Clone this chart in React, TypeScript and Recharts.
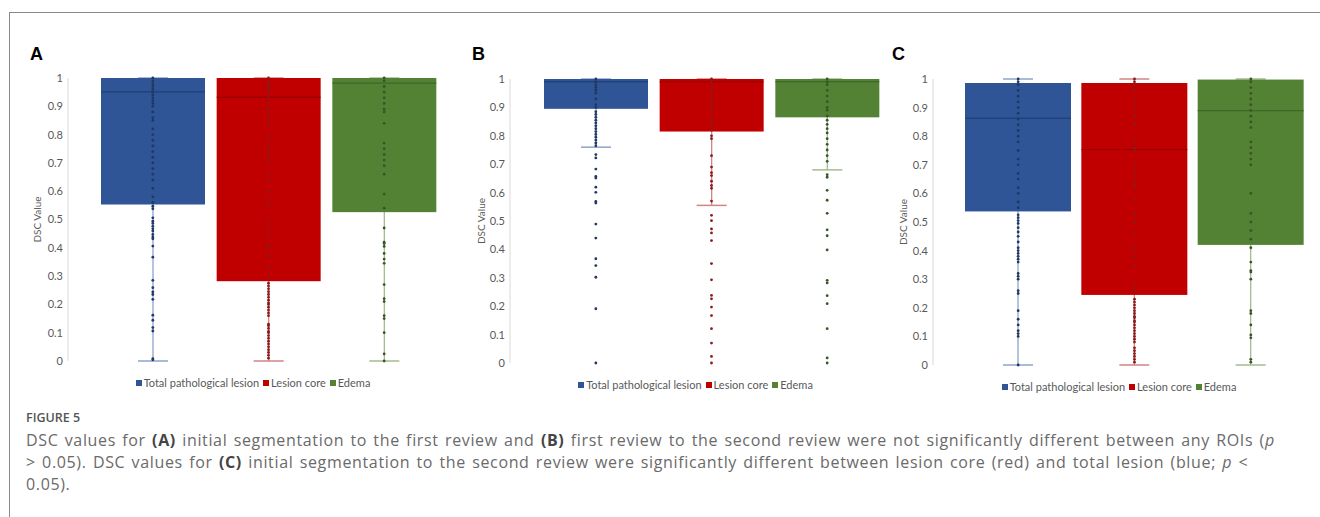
import React from "react";
import { ComposedChart, Bar, Scatter, XAxis, YAxis, Legend } from "recharts";

const categories = ["Total pathological lesion", "Lesion core", "Edema"];
const boxColors = ["#2f5597", "#c00000", "#548235"];
const medianColors = ["#1e3a70", "#8e0000", "#3a6222"];
const whiskerColors = ["#8fa3c9", "#cf8585", "#a5bb90"];
const dotColors = ["#1f3864", "#8b1a1a", "#375623"];
const yTicks = [0, 0.1, 0.2, 0.3, 0.4, 0.5, 0.6, 0.7, 0.8, 0.9, 1];

// panel A: initial segmentation vs first review
const aMin = [0, 0, 0];
const aQ1 = [0.553, 0.282, 0.526];
const aMedian = [0.951, 0.932, 0.982];
const aQ3 = [1, 1, 1];
const aMax = [1, 1, 1];
const aTotal = [1, 0.99, 0.98, 0.97, 0.96, 0.95, 0.94, 0.93, 0.92, 0.91, 0.9, 0.88, 0.86, 0.85, 0.82, 0.8, 0.78, 0.76, 0.74, 0.72, 0.7, 0.68, 0.66, 0.64, 0.61, 0.58, 0.56, 0.547, 0.538, 0.506, 0.494, 0.486, 0.476, 0.467, 0.459, 0.447, 0.438, 0.432, 0.406, 0.367, 0.285, 0.259, 0.244, 0.235, 0.218, 0.162, 0.144, 0.118, 0.106, 0.008, 0.004];
const aCore = [1, 0.99, 0.98, 0.97, 0.96, 0.95, 0.93, 0.91, 0.89, 0.87, 0.85, 0.83, 0.8, 0.78, 0.76, 0.74, 0.72, 0.7, 0.66, 0.64, 0.6, 0.57, 0.55, 0.5, 0.47, 0.44, 0.41, 0.4, 0.37, 0.33, 0.3, 0.275, 0.265, 0.255, 0.245, 0.235, 0.225, 0.215, 0.205, 0.2, 0.19, 0.18, 0.17, 0.16, 0.13, 0.125, 0.115, 0.105, 0.1, 0.09, 0.08, 0.07, 0.06, 0.05, 0.04, 0.03, 0.02, 0.01];
const aEdema = [1, 0.99, 0.97, 0.95, 0.93, 0.91, 0.89, 0.88, 0.84, 0.77, 0.75, 0.73, 0.71, 0.69, 0.66, 0.59, 0.54, 0.47, 0.42, 0.415, 0.405, 0.38, 0.36, 0.345, 0.27, 0.22, 0.21, 0.16, 0.15, 0.1, 0.025, 0];

// panel B: first review vs second review
const bMin = [0.76, 0.555, 0.68];
const bQ1 = [0.895, 0.815, 0.865];
const bMedian = [0.99, 0.99, 0.99];
const bQ3 = [1, 1, 1];
const bMax = [1, 1, 1];
const bTotal = [1, 0.99, 0.98, 0.97, 0.96, 0.95, 0.93, 0.91, 0.9, 0.885, 0.875, 0.865, 0.855, 0.845, 0.835, 0.825, 0.815, 0.805, 0.795, 0.785, 0.775, 0.765, 0.734, 0.722, 0.683, 0.657, 0.651, 0.619, 0.601, 0.569, 0.563, 0.489, 0.44, 0.367, 0.343, 0.302, 0.191, 0];
const bCore = [1, 0.99, 0.97, 0.95, 0.93, 0.91, 0.89, 0.87, 0.85, 0.84, 0.82, 0.8, 0.79, 0.73, 0.69, 0.67, 0.66, 0.64, 0.625, 0.615, 0.57, 0.52, 0.501, 0.472, 0.458, 0.431, 0.35, 0.293, 0.238, 0.226, 0.197, 0.167, 0.121, 0.07, 0.023, 0];
const bEdema = [1, 0.99, 0.98, 0.96, 0.94, 0.92, 0.9, 0.89, 0.87, 0.855, 0.84, 0.825, 0.81, 0.79, 0.77, 0.75, 0.73, 0.71, 0.663, 0.654, 0.608, 0.573, 0.527, 0.469, 0.448, 0.398, 0.291, 0.282, 0.237, 0.209, 0.121, 0.018, 0];

// panel C: initial segmentation vs second review
const cMin = [0, 0, 0];
const cQ1 = [0.537, 0.245, 0.42];
const cMedian = [0.863, 0.753, 0.889];
const cQ3 = [0.986, 0.986, 0.998];
const cMax = [1, 1, 1];
const cTotal = [1, 0.99, 0.98, 0.96, 0.94, 0.92, 0.9, 0.88, 0.86, 0.84, 0.82, 0.8, 0.78, 0.75, 0.72, 0.7, 0.67, 0.65, 0.62, 0.6, 0.57, 0.55, 0.525, 0.515, 0.505, 0.495, 0.48, 0.465, 0.45, 0.43, 0.41, 0.4, 0.39, 0.38, 0.37, 0.36, 0.32, 0.31, 0.3, 0.26, 0.25, 0.19, 0.16, 0.14, 0.12, 0.11, 0.1, 0];
const cCore = [1, 0.99, 0.98, 0.96, 0.93, 0.9, 0.87, 0.84, 0.79, 0.76, 0.75, 0.7, 0.67, 0.65, 0.63, 0.62, 0.58, 0.53, 0.5, 0.46, 0.41, 0.38, 0.35, 0.28, 0.26, 0.23, 0.22, 0.21, 0.2, 0.19, 0.18, 0.17, 0.165, 0.155, 0.15, 0.14, 0.13, 0.12, 0.11, 0.1, 0.09, 0.08, 0.06, 0.05, 0.04, 0.03, 0.02, 0.01];
const cEdema = [1, 0.99, 0.97, 0.95, 0.93, 0.91, 0.89, 0.87, 0.85, 0.83, 0.78, 0.76, 0.74, 0.72, 0.7, 0.6, 0.53, 0.5, 0.47, 0.44, 0.41, 0.36, 0.33, 0.325, 0.3, 0.19, 0.18, 0.14, 0.105, 0.095, 0.02, 0.01];

const buildStats = (min: number[], q1: number[], median: number[], q3: number[], max: number[]) =>
  categories.map((name, i) => ({ name, min: min[i], q1: q1[i], median: median[i], q3: q3[i], max: max[i] }));

const buildDots = (values: number[][]) =>
  categories.flatMap((name, i) => values[i].map((v) => ({ name, v })));

function BoxShape(props: any) {
  const { x, y, width, height, payload } = props;
  const i = categories.indexOf(payload.name);
  const { min, max, q1, median, q3 } = payload;
  // map a value inside the whisker range onto the bar the library placed
  const toY = (v: number) => y + (height * (max - v)) / (max - min);
  const cx = x + width / 2;
  const cap = 15;
  return (
    <g>
      <line x1={cx} x2={cx} y1={toY(max)} y2={toY(min)} stroke={whiskerColors[i]} strokeWidth={1.3} />
      <line x1={cx - cap} x2={cx + cap} y1={toY(max)} y2={toY(max)} stroke={whiskerColors[i]} strokeWidth={1.5} />
      <line x1={cx - cap} x2={cx + cap} y1={toY(min)} y2={toY(min)} stroke={whiskerColors[i]} strokeWidth={1.5} />
      <rect x={x} y={toY(q3)} width={width} height={toY(q1) - toY(q3)} fill={boxColors[i]} />
      <line x1={x} x2={x + width} y1={toY(median)} y2={toY(median)} stroke={medianColors[i]} strokeWidth={1} />
    </g>
  );
}

function DotShape(props: any) {
  const i = categories.indexOf(props.payload.name);
  return <circle cx={props.cx} cy={props.cy} r={1.4} fill={dotColors[i]} />;
}

function LegendContent() {
  return (
    <div style={{ display: "flex", justifyContent: "center", paddingTop: 16, fontSize: 11, lineHeight: "12px", color: "#595959", fontFamily: "Lato" }}>
      {categories.map((c, i) => (
        <span key={c} style={{ display: "inline-flex", alignItems: "center", marginRight: 4 }}>
          <span style={{ width: 6, height: 6, background: boxColors[i], marginRight: 2 }} />
          {c}
        </span>
      ))}
    </div>
  );
}

type PanelProps = {
  letter: string;
  letterLeft: number;
  left: number;
  width: number;
  height: number;
  top: number;
  padLeft: number;
  barSize: number;
  labelDx: number;
  stats: any[];
  dots: any[];
};

function Panel({ letter, letterLeft, left, width, height, top, padLeft, barSize, labelDx, stats, dots }: PanelProps) {
  return (
    <div style={{ position: "absolute", left, top: 0 }}>
      <div style={{ position: "absolute", left: letterLeft, top: 44, fontFamily: "Liberation Sans", fontWeight: 700, fontSize: 18 }}>{letter}</div>
      <ComposedChart width={width} height={height} data={stats} margin={{ top, right: 0, left: 0, bottom: 8 }}>
        <XAxis dataKey="name" type="category" allowDuplicatedCategory={false} hide padding={{ left: padLeft, right: 0 }} />
        <YAxis
          domain={[0, 1]}
          ticks={yTicks}
          width={68}
          axisLine={{ stroke: "#d9d9d9" }}
          tickLine={false}
          tickSize={3}
          tickMargin={2}
          tick={{ fill: "#595959", fontSize: 11, fontFamily: "Lato" }}
          label={{ value: "DSC Value", angle: -90, position: "center", dx: labelDx, fill: "#595959", fontSize: 10, fontFamily: "Lato" }}
        />
        <Legend verticalAlign="bottom" height={31} content={<LegendContent />} wrapperStyle={{ left: 68, width: width - 68 }} />
        <Bar dataKey={(d: any) => [d.min, d.max]} barSize={barSize} shape={(p: any) => <BoxShape {...p} />} isAnimationActive={false} />
        <Scatter data={dots} dataKey="v" shape={(p: any) => <DotShape {...p} />} isAnimationActive={false} />
      </ComposedChart>
    </div>
  );
}

export default function App() {
  const caption: React.CSSProperties = {
    fontFamily: "Open Sans",
    fontSize: 16,
    letterSpacing: 0.65,
    wordSpacing: 1.5,
    lineHeight: "22px",
    color: "#6a6a6a",
    whiteSpace: "nowrap",
  };
  const bold: React.CSSProperties = { color: "#444", fontWeight: 700 };
  return (
    <div style={{ position: "absolute", left: 0, top: 0, width: 1320, height: 517, background: "#fff", overflow: "hidden" }}>
      <div style={{ position: "absolute", left: 9, top: 12, width: 1330, height: 530, borderLeft: "1px solid #8a8a8a", borderTop: "1px solid #8a8a8a" }} />
      <Panel letter="A" letterLeft={30} left={0} width={442} height={400} top={78} padLeft={27} barSize={104} labelDx={3}
        stats={buildStats(aMin, aQ1, aMedian, aQ3, aMax)} dots={buildDots([aTotal, aCore, aEdema])} />
      <Panel letter="B" letterLeft={30} left={442} width={443} height={402} top={79} padLeft={28} barSize={104} labelDx={5}
        stats={buildStats(bMin, bQ1, bMedian, bQ3, bMax)} dots={buildDots([bTotal, bCore, bEdema])} />
      <Panel letter="C" letterLeft={27} left={865} width={444} height={404} top={79} padLeft={27} barSize={106} labelDx={4}
        stats={buildStats(cMin, cQ1, cMedian, cQ3, cMax)} dots={buildDots([cTotal, cCore, cEdema])} />
      <div style={{ position: "absolute", left: 26, top: 409 }}>
        <div style={{ fontFamily: "Open Sans", fontSize: 12.5, fontWeight: 600, color: "#555", lineHeight: "18px", marginBottom: 2 }}>FIGURE 5</div>
        <div style={caption}>
          DSC values for <span style={bold}>(A)</span> initial segmentation to the first review and <span style={bold}>(B)</span> first review to the second review were not significantly different between any ROIs (<i>p</i>
        </div>
        <div style={caption}>
          &gt; 0.05). DSC values for <span style={bold}>(C)</span> initial segmentation to the second review were significantly different between lesion core (red) and total lesion (blue; <i>p</i> &lt;
        </div>
        <div style={caption}>0.05).</div>
      </div>
    </div>
  );
}
